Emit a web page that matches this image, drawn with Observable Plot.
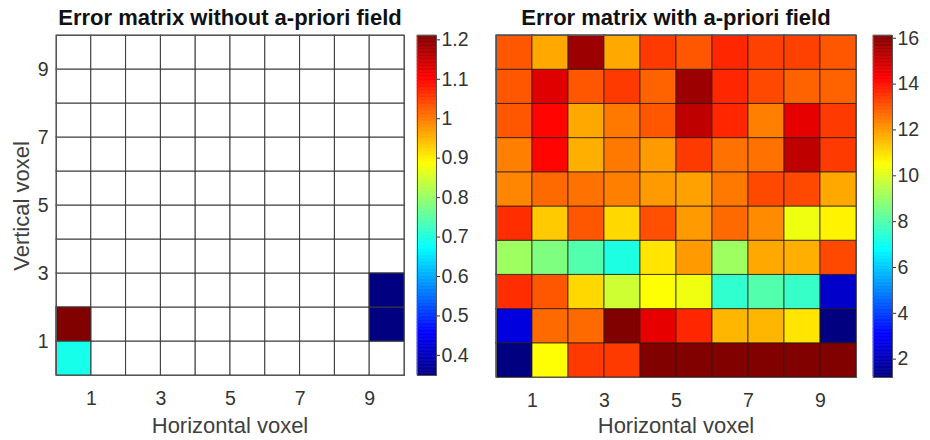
<!DOCTYPE html>
<html>
<head>
<meta charset="utf-8">
<script src="https://cdn.jsdelivr.net/npm/d3@7"></script>
<script src="https://cdn.jsdelivr.net/npm/@observablehq/plot@0.6"></script>
<style>
  html, body { margin: 0; padding: 0; background: #fff; }
  #fig { position: relative; width: 930px; height: 440px; background: #fff; font-family: "Liberation Sans", Arial, sans-serif; overflow: hidden; }
  #fig svg { position: absolute; top: 0; }
  .lbl { position: absolute; white-space: nowrap; transform: translate(-50%, -50%); }
  .title { font-weight: bold; font-size: 22px; color: #111; }
  .axl { font-size: 22px; color: #404040; }
</style>
</head>
<body>
<div id="fig"></div>
<script>
// ---------- data ----------
const voxels = [0, 1, 2, 3, 4, 5, 6, 7, 8, 9];
const tickValues = [1, 3, 5, 7, 9];

// Left: error matrix without a-priori field (rows = vertical voxel, bottom first; null = no value)
const withoutRow0 = [0.69, null, null, null, null, null, null, null, null, null];
const withoutRow1 = [1.21, null, null, null, null, null, null, null, null, 0.35];
const withoutRow2 = [null, null, null, null, null, null, null, null, null, 0.35];
const withoutRow3 = [null, null, null, null, null, null, null, null, null, null];
const withoutRow4 = [null, null, null, null, null, null, null, null, null, null];
const withoutRow5 = [null, null, null, null, null, null, null, null, null, null];
const withoutRow6 = [null, null, null, null, null, null, null, null, null, null];
const withoutRow7 = [null, null, null, null, null, null, null, null, null, null];
const withoutRow8 = [null, null, null, null, null, null, null, null, null, null];
const withoutRow9 = [null, null, null, null, null, null, null, null, null, null];
const withoutRows = [withoutRow0, withoutRow1, withoutRow2, withoutRow3, withoutRow4,
                     withoutRow5, withoutRow6, withoutRow7, withoutRow8, withoutRow9];

// Right: error matrix with a-priori field (rows = vertical voxel, bottom first)
const withRow0 = [1.2, 10.5, 13.4, 13.4, 16.1, 16.1, 16.1, 16.1, 16.1, 16.1];
const withRow1 = [2.6, 12.7, 12.7, 16.1, 14.6, 13.7, 11.6, 11.6, 10.9, 1.2];
const withRow2 = [13.6, 13.0, 11.1, 9.8, 10.5, 10.3, 7.5, 8.0, 7.6, 2.3];
const withRow3 = [9.1, 8.65, 8.0, 7.2, 10.9, 12.0, 9.1, 11.8, 11.7, 13.2];
const withRow4 = [13.6, 11.3, 13.0, 11.1, 13.1, 12.0, 12.7, 12.2, 10.3, 10.7];
const withRow5 = [12.3, 12.7, 12.6, 12.4, 12.0, 11.9, 12.5, 13.2, 13.2, 11.8];
const withRow6 = [12.4, 14.2, 11.7, 12.5, 12.0, 13.4, 12.6, 12.6, 15.2, 13.4];
const withRow7 = [13.0, 14.2, 11.8, 12.5, 13.0, 15.2, 13.7, 12.4, 14.6, 13.4];
const withRow8 = [13.0, 14.7, 13.0, 13.4, 12.8, 15.7, 13.7, 13.2, 12.8, 12.8];
const withRow9 = [13.0, 11.8, 15.7, 11.8, 13.4, 13.0, 13.7, 13.3, 13.3, 13.0];
const withRows = [withRow0, withRow1, withRow2, withRow3, withRow4,
                  withRow5, withRow6, withRow7, withRow8, withRow9];

const leftDomain = [0.349, 1.211];
const leftTicks = [0.4, 0.5, 0.6, 0.7, 0.8, 0.9, 1, 1.1, 1.2];
const rightDomain = [1.2, 16.12];
const rightTicks = [2, 4, 6, 8, 10, 12, 14, 16];

// ---------- helpers ----------
function jet(t) {
  const c = v => Math.max(0, Math.min(1, v));
  const r = c(Math.min(4 * t - 1.5, -4 * t + 4.5));
  const g = c(Math.min(4 * t - 0.5, -4 * t + 3.5));
  const b = c(Math.min(4 * t + 0.5, -4 * t + 2.5));
  return d3.rgb(r * 255, g * 255, b * 255).formatHex();
}
function toCells(rows) {
  const out = [];
  rows.forEach((row, yi) => row.forEach((v, xi) => out.push({x: voxels[xi], y: voxels[yi], v})));
  return out;
}
const font = '"Liberation Sans", Arial, sans-serif';
const tickColor = "#333";
const tickFont = "19.5px";
const fig = document.getElementById("fig");

function heatmap({rows, domain, left, width, mL, mR, mT, mB, yAxis, cellStroke}) {
  const cells = toCells(rows);
  const svg = Plot.plot({
    width, height: 440,
    marginLeft: mL, marginRight: mR, marginTop: mT, marginBottom: mB,
    style: {background: "none", fontSize: tickFont, fontFamily: font, color: tickColor},
    x: {domain: [0, 10], label: null},
    y: {domain: [0, 10], label: null, axis: yAxis ? undefined : null},
    color: {type: "linear", domain, interpolate: jet},
    marks: [
      Plot.rect(cells, {x1: "x", x2: d => d.x + 1, y1: "y", y2: d => d.y + 1, fill: "white", stroke: cellStroke, strokeWidth: 1}),
      Plot.rect(cells.filter(d => d.v != null), {x1: "x", x2: d => d.x + 1, y1: "y", y2: d => d.y + 1, fill: "v", stroke: cellStroke, strokeWidth: 1}),
      Plot.axisX({ticks: tickValues, tickSize: 0, tickPadding: 16, label: null, tickFormat: d3.format("d")}),
      yAxis ? Plot.axisY({ticks: tickValues, tickSize: 0, tickPadding: 8, label: null, tickFormat: d3.format("d")}) : null,
      Plot.frame({stroke: "#555", strokeWidth: 1})
    ]
  });
  svg.style.left = left + "px";
  fig.appendChild(svg);
}

function colorbar({domain, ticks, left, mT, mB, fmt}) {
  const n = 240;
  const step = (domain[1] - domain[0]) / n;
  const stripes = d3.range(n).map(i => ({a: domain[0] + i * step, b: domain[0] + (i + 1) * step}));
  const svg = Plot.plot({
    width: 80, height: 440,
    marginLeft: 17, marginRight: 44, marginTop: mT, marginBottom: mB,
    style: {background: "none", fontSize: tickFont, fontFamily: font, color: tickColor},
    x: {domain: [0, 1], axis: null},
    y: {domain, label: null, axis: null},
    color: {type: "linear", domain, interpolate: jet},
    marks: [
      Plot.rect(stripes, {x1: 0, x2: 1, y1: "a", y2: "b", fill: d => (d.a + d.b) / 2, stroke: d => (d.a + d.b) / 2, strokeWidth: 0.6}),
      Plot.axisY({anchor: "right", ticks, tickSize: 3, tickPadding: 2, label: null, tickFormat: fmt}),
      Plot.frame({stroke: "#555", strokeWidth: 1})
    ]
  });
  svg.style.left = left + "px";
  fig.appendChild(svg);
}

function label(text, cls, x, y, rotate) {
  const d = document.createElement("div");
  d.className = "lbl " + cls;
  d.textContent = text;
  d.style.left = x + "px";
  d.style.top = y + "px";
  if (rotate) d.style.transform = "translate(-50%, -50%) rotate(-90deg)";
  fig.appendChild(d);
}

// ---------- left panel ----------
heatmap({rows: withoutRows, domain: leftDomain, left: 0, width: 420, mL: 56, mR: 16, mT: 35, mB: 65, yAxis: true, cellStroke: "#3a3a3a"});
colorbar({domain: leftDomain, ticks: leftTicks, left: 400, mT: 35, mB: 65, fmt: d => String(+d.toFixed(1))});

// ---------- right panel ----------
heatmap({rows: withRows, domain: rightDomain, left: 440, width: 430, mL: 56, mR: 14, mT: 35, mB: 63, yAxis: false, cellStroke: "rgba(40,30,20,0.75)"});
colorbar({domain: rightDomain, ticks: rightTicks, left: 856, mT: 35, mB: 63, fmt: d3.format("d")});

// ---------- texts ----------
label("Error matrix without a-priori field", "title", 230, 18);
label("Error matrix with a-priori field", "title", 676, 18);
label("Horizontal voxel", "axl", 230, 426);
label("Horizontal voxel", "axl", 676, 426);
label("Vertical voxel", "axl", 22, 206, true);
</script>
</body>
</html>
